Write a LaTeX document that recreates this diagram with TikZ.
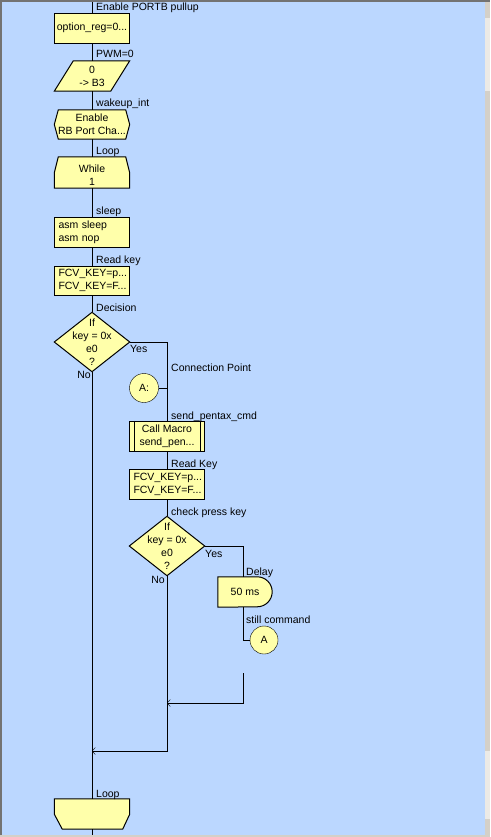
\documentclass[tikz,border=0pt]{standalone}
\usepackage{fontspec}
\setmainfont{Liberation Sans}
\usetikzlibrary{arrows.meta}
\definecolor{canvasblue}{RGB}{187,215,255}
\definecolor{boxyellow}{RGB}{255,255,170}
\definecolor{barface}{RGB}{212,208,200}
\definecolor{bartrack}{RGB}{236,234,230}
\pgfdeclarelayer{bg}
\pgfsetlayers{bg,main}
\tikzset{
	flowbox/.style={draw, fill=boxyellow, minimum width=75pt, minimum height=30pt, inner sep=0pt, align=center},
	codebox/.style={flowbox, align=left, text width=67pt, inner xsep=4pt},
	shapebox/.style={minimum width=75pt, minimum height=30pt, inner sep=0pt, align=center},
	fillshape/.style={draw, fill=boxyellow, line width=1pt, line join=miter},
	connpt/.style={draw, fill=boxyellow, circle, minimum size=29pt, inner sep=0pt},
	lbl/.style={anchor=base west, inner sep=0pt},
	flow/.style={-{Straight Barb[length=3pt,width=7pt]}},
}
\begin{document}
\begin{tikzpicture}[x=1pt, y=-1pt, line width=1pt, font=\fontsize{10.5pt}{13pt}\selectfont]
	\useasboundingbox (0,0) rectangle (490,837);
	\begin{pgfonlayer}{bg}
		\fill[canvasblue] (0,0) rectangle (490,837);
	\end{pgfonlayer}

	% main column
	\coordinate (top) at (92,0);
	\coordinate (bot) at (92,837);
	\node[flowbox] (optreg) at (92,28) {option\_reg=0...};
	\node[shapebox] (pwm) at (92,76) {0\\-> B3};
	\node[shapebox, minimum height=29pt] (wake) at (92,124.5) {Enable\\RB Port Cha...};
	\node[shapebox, minimum height=31pt, text height=26.5pt] (while) at (92,172.5) {While\\1};
	\node[codebox] (sleep) at (92,232) {asm sleep\\asm nop};
	\node[codebox, minimum height=29pt] (readkey) at (92,280.5) {FCV\_KEY=p...\\FCV\_KEY=F...};
	\node[shapebox, minimum height=59pt] (dec1) at (92,342) {If\\key = 0x\\e0\\?};
	\node[shapebox] (loopend) at (92,814) {};

	% yes branch
	\node[connpt] (connA) at (144,388) {A:};
	\node[flowbox] (macro) at (167,436) {Call Macro\\send\_pen...};
	\node[codebox] (readkey2) at (167,484) {FCV\_KEY=p...\\FCV\_KEY=F...};
	\node[shapebox, minimum height=59pt] (dec2) at (167,546) {If\\key = 0x\\e0\\?};
	\node[shapebox, minimum width=54pt] (delay) at (245,592) {50 ms};
	\node[connpt, minimum size=28pt] (gotoA) at (264,640) {A};
	\coordinate (stub) at (243,673);
	\coordinate (join2) at (167,703);
	\coordinate (join1) at (92,751);

	% outlines of the special boxes
	\begin{pgfonlayer}{bg}
		\filldraw[fillshape] ([xshift=19pt]pwm.north west) -- (pwm.north east) -- ([xshift=-19pt]pwm.south east) -- (pwm.south west) -- cycle;
		\filldraw[fillshape] ([xshift=4pt]wake.north west) -- ([xshift=-4pt]wake.north east) -- (wake.east) -- ([xshift=-4pt]wake.south east) -- ([xshift=4pt]wake.south west) -- (wake.west) -- cycle;
		\filldraw[fillshape] ([xshift=4pt]while.north west) -- ([xshift=-4pt]while.north east) -- ([yshift=-16pt]while.north east) -- (while.south east) -- (while.south west) -- ([yshift=-16pt]while.north west) -- cycle;
		\filldraw[fillshape] (dec1.north) -- (dec1.east) -- (dec1.south) -- (dec1.west) -- cycle;
		\filldraw[fillshape] (dec2.north) -- (dec2.east) -- (dec2.south) -- (dec2.west) -- cycle;
		\filldraw[fillshape] (delay.north west) -- ([xshift=-15pt]delay.north east) arc[start angle=90, end angle=-90, radius=15pt] -- (delay.south west) -- cycle;
		\filldraw[fillshape] (loopend.north west) -- (loopend.north east) -- ([yshift=15pt]loopend.south east) -- ([xshift=-7pt]loopend.south east) -- ([xshift=8pt]loopend.south west) -- ([yshift=15pt]loopend.south west) -- cycle;
	\end{pgfonlayer}
	\draw ([xshift=5pt]macro.north west) -- ([xshift=5pt]macro.south west);
	\draw ([xshift=-5pt]macro.north east) -- ([xshift=-5pt]macro.south east);

	% connectors
	\draw (top) -- (optreg.north);
	\draw (optreg.south) -- (pwm.north);
	\draw (pwm.south) -- (wake.north);
	\draw (wake.south) -- (while.north);
	\draw (while.south) -- (sleep.north);
	\draw (sleep.south) -- (readkey.north);
	\draw (readkey.south) -- (dec1.north);
	\draw (dec1.south) -- (loopend.north);
	\draw (loopend.south) -- (bot);
	\draw (dec1.east) -| (macro.north);
	\draw (connA.east) -- (connA.east -| macro.north);
	\draw (macro.south) -- (readkey2.north);
	\draw (readkey2.south) -- (dec2.north);
	\draw (dec2.east) -| ([xshift=-2pt]delay.north);
	\draw ([xshift=-2pt]delay.south) |- (gotoA.west);
	\draw[flow] (stub) |- (join2);
	\draw[flow] (dec2.south) |- (join1);

	% labels
	\node[lbl] (tPortb) at (96,10.5) {Enable PORTB pullup};
	\node[lbl] (tPwm) at (96,58) {PWM=0};
	\node[lbl] (tWake) at (96,107) {wakeup\_int};
	\node[lbl] (tLoop) at (96,155) {Loop};
	\node[lbl] (tSleep) at (96,214) {sleep};
	\node[lbl] (tRead) at (96,263) {Read key};
	\node[lbl] (tDec) at (96,311) {Decision};
	\node[lbl] (tYes1) at (130,352) {Yes};
	\node[lbl, anchor=base east] (tNo1) at (91,378) {No};
	\node[lbl] (tConn) at (171,371) {Connection Point};
	\node[lbl] (tMacro) at (171,419) {send\_pentax\_cmd};
	\node[lbl] (tRead2) at (171,467) {Read Key};
	\node[lbl] (tCheck) at (171,515) {check press key};
	\node[lbl] (tYes2) at (205,557) {Yes};
	\node[lbl, anchor=base east] (tNo2) at (165,583) {No};
	\node[lbl] (tDelay) at (246,575) {Delay};
	\node[lbl] (tStill) at (246,623) {still command};
	\node[lbl] (tLoopEnd) at (96,797) {Loop};

	% window frame and scroll bar
	\fill[black!55] (0,0) rectangle (490,2);
	\fill[black!55] (0,0) rectangle (2,837);
	\fill[barface] (0,835) rectangle (490,837);
	\fill[barface] (485,2) rectangle (490,835);
	\fill[bartrack] (485,18) rectangle (490,91);
	\fill[bartrack] (485,751) rectangle (490,819);
\end{tikzpicture}
\end{document}
